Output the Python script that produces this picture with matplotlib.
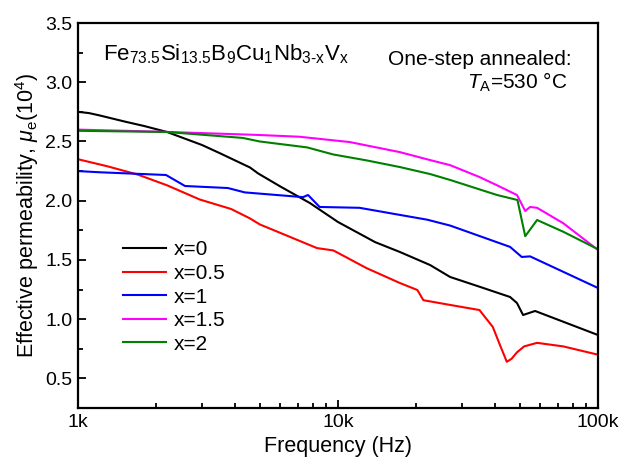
import matplotlib
matplotlib.use("Agg")
import numpy as np
import matplotlib.pyplot as plt
from matplotlib.ticker import FixedLocator, FixedFormatter, MultipleLocator, LogLocator, NullFormatter

plt.rcParams['font.family'] = ['Liberation Sans', 'DejaVu Sans']
plt.rcParams['mathtext.fontset'] = 'custom'
plt.rcParams['mathtext.rm'] = 'Liberation Sans'
plt.rcParams['mathtext.it'] = 'Liberation Sans:italic'
plt.rcParams['mathtext.bf'] = 'Liberation Sans:bold'

# frequency in kHz, effective permeability in units of 1e4
f_x0 = [1.0, 1.1, 1.21, 1.5, 1.8, 2.2, 3.0, 3.52, 4.59, 4.93, 6.0, 7.8, 8.3, 10, 13.9, 17.3, 22.6,
        27, 35, 45.9, 48.8, 51.5, 57.3, 100]
mu_x0 = [2.75, 2.74, 2.72, 2.67, 2.63, 2.58, 2.47, 2.40, 2.28, 2.23, 2.12, 1.98, 1.94, 1.82, 1.65,
         1.567, 1.457, 1.356, 1.274, 1.187, 1.136, 1.035, 1.069, 0.866]

f_x05 = [1.0, 1.3, 1.7, 2.2, 2.94, 3.88, 4.59, 5.0, 8.3, 9.6, 12.9, 17.3, 20.2, 21.3, 27, 35, 39.4,
         42, 44.6, 46.5, 48.8, 52, 58.3, 73.5, 100]
mu_x05 = [2.35, 2.29, 2.22, 2.13, 2.01, 1.93, 1.85, 1.80, 1.60, 1.58, 1.43, 1.305, 1.246, 1.16, 1.12,
          1.077, 0.934, 0.78, 0.64, 0.665, 0.72, 0.77, 0.80, 0.77, 0.70]

f_x1 = [1.0, 1.21, 2.18, 2.58, 3.77, 4.38, 7.33, 7.67, 8.5, 12.1, 17.3, 22, 27, 45.9, 50.9, 54.8, 100]
mu_x1 = [2.25, 2.24, 2.217, 2.124, 2.107, 2.07, 2.03, 2.048, 1.947, 1.94, 1.88, 1.84, 1.79, 1.61,
         1.525, 1.53, 1.263]

f_x15 = [1.0, 2.03, 4.93, 7.1, 11.1, 17.3, 22.6, 27, 35, 40.9, 48.8, 52.5, 54.8, 58.3, 73.5, 100]
mu_x15 = [2.60, 2.583, 2.555, 2.54, 2.495, 2.41, 2.343, 2.30, 2.20, 2.13, 2.048, 1.913, 1.947, 1.94,
          1.81, 1.584]

f_x2 = [1.0, 2.2, 4.3, 5.0, 7.6, 9.6, 12.9, 17.3, 22.6, 27, 40.9, 49, 52.5, 58.3, 73.5, 100]
mu_x2 = [2.59, 2.58, 2.53, 2.50, 2.45, 2.39, 2.34, 2.284, 2.225, 2.175, 2.048, 2.006, 1.70, 1.837,
         1.738, 1.59]

labels = ['x=0', 'x=0.5', 'x=1', 'x=1.5', 'x=2']
colors = ['black', '#ff0000', '#0000ff', '#ff00ff', '#008000']
freqs = [f_x0, f_x05, f_x1, f_x15, f_x2]
mus = [mu_x0, mu_x05, mu_x1, mu_x15, mu_x2]

fig = plt.figure(figsize=(6.22, 4.63), dpi=100)
ax = fig.add_axes([0.1254, 0.1188, 0.8360, 0.8315])

for f, mu, c, lab in zip(freqs, mus, colors, labels):
    ax.plot(np.array(f) * 1000, mu, color=c, lw=1.5, label=lab)

ax.set_xscale('log')
ax.set_xlim(1000, 100000)
ax.set_ylim(0.25, 3.5)

ax.xaxis.set_major_locator(FixedLocator([1000, 10000, 100000]))
ax.xaxis.set_major_formatter(FixedFormatter(['1k', '10k', '100k']))
ax.xaxis.set_minor_locator(LogLocator(base=10, subs=np.arange(2, 10)))
ax.xaxis.set_minor_formatter(NullFormatter())
ax.yaxis.set_major_locator(MultipleLocator(0.5))
ax.yaxis.set_minor_locator(MultipleLocator(0.25))
ax.yaxis.set_major_formatter(plt.FormatStrFormatter('%.1f'))

ax.tick_params(which='both', direction='in', top=False, right=False, labelsize=14, width=1.3)
ax.tick_params(which='major', length=6, pad=4)
ax.tick_params(which='minor', length=3.5)
for s in ax.spines.values():
    s.set_linewidth(1.6)

ax.set_xlabel('Frequency (Hz)', fontsize=15.5, labelpad=4)
ax.set_ylabel(r'Effective permeability, $\mu_{\mathrm{e}}$(10$^{4}$)', fontsize=15.5, labelpad=3)

ax.text(0.048, 0.918, r'Fe$_{73.5}$Si$_{13.5}$B$_9$Cu$_1$Nb$_{\mathrm{3\text{-}x}}$V$_{\mathrm{x}}$',
        transform=ax.transAxes, fontsize=16, ha='left', va='center')
ax.text(0.95, 0.905, 'One-step annealed:', transform=ax.transAxes,
        fontsize=15, ha='right', va='center')
ax.text(0.942, 0.845, r'$T_{\mathrm{A}}$=530 °C', transform=ax.transAxes,
        fontsize=15, ha='right', va='center')

ax.legend(loc='upper left', bbox_to_anchor=(0.07, 0.457), frameon=False,
          fontsize=15, handlelength=2.1, handletextpad=0.35, labelspacing=0.22,
          borderaxespad=0)

fig.savefig('out.png', dpi=100)
